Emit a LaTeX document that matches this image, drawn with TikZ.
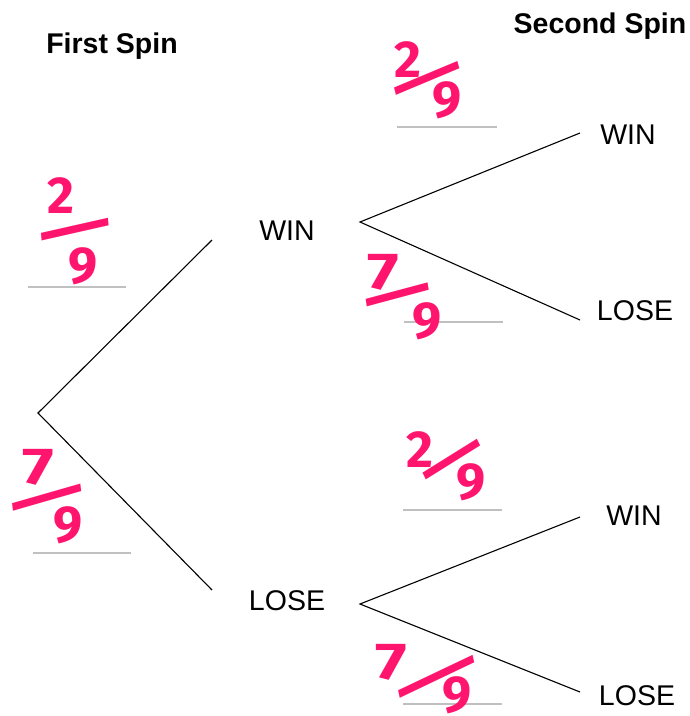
\documentclass[tikz,border=0pt]{standalone}
\usepackage{fontspec}
\setmainfont{Liberation Sans}
\newfontfamily\hwfont{Fira Sans}
\definecolor{hwpink}{RGB}{255,20,110}
\definecolor{rulegray}{RGB}{192,192,192}
\begin{document}
\begin{tikzpicture}[x=1pt,y=-1pt,
  lbl/.style={font=\fontsize{28.5}{32}\selectfont, inner sep=0pt, anchor=base},
  head/.style={font=\bfseries\fontsize{28.5}{32}\selectfont, inner sep=0pt, anchor=base},
  hw/.style={font=\hwfont\bfseries\fontsize{52}{54}\selectfont, text=hwpink, inner sep=0pt},
  hwseven/.style={hw, xscale=1.3},
  branch/.style={draw=black, line width=1.1pt},
  blank/.style={draw=rulegray, line width=2.6pt}]
\useasboundingbox (0,0) rectangle (690,716);
\fill[white] (0,0) rectangle (690,716);

% headings
\node[head] (h1) at (112,53) {First Spin};
\node[head] (h2) at (600,33) {Second Spin};

% outcome labels
\node[lbl] (win1) at (287,240) {WIN};
\node[lbl] (lose1) at (287,610) {LOSE};
\node[lbl] (ww) at (628,144) {WIN};
\node[lbl] (wl) at (635,320) {LOSE};
\node[lbl] (lw) at (634,525) {WIN};
\node[lbl] (ll) at (637,705) {LOSE};

% branch end points
\coordinate (root) at (38,413);
\coordinate (w1in) at (212,240);
\coordinate (l1in) at (212,590);
\coordinate (w1out) at (360,222);
\coordinate (l1out) at (360,604);
\coordinate (wwin) at (580,133);
\coordinate (wlin) at (580,320);
\coordinate (lwin) at (580,517);
\coordinate (llin) at (580,692);

\draw[branch] (w1in) -- (root) -- (l1in);
\draw[branch] (wwin) -- (w1out) -- (wlin);
\draw[branch] (lwin) -- (l1out) -- (llin);

% answer blanks
\coordinate (b1a) at (28,287);  \coordinate (b1b) at (126,287);
\coordinate (b2a) at (33,553);  \coordinate (b2b) at (131,553);
\coordinate (b3a) at (397,127); \coordinate (b3b) at (497,127);
\coordinate (b4a) at (404,322); \coordinate (b4b) at (503,322);
\coordinate (b5a) at (403,510); \coordinate (b5b) at (502,510);
\coordinate (b6a) at (403,704); \coordinate (b6b) at (502,704);
\foreach \i in {1,...,6} \draw[blank] (b\i a) -- (b\i b);

% handwritten answers: numerator, slash, denominator
\node[hw] (f1n) at (61,196) {2};
\node[hw, rotate=-67, yscale=1.45] (f1s) at (75,230) {/};
\node[hw] (f1d) at (83,266) {9};

\node[hwseven] (f2n) at (38,467) {7};
\node[hw, rotate=-64, yscale=1.5] (f2s) at (47,498) {/};
\node[hw] (f2d) at (68,525) {9};

\node[hw] (f3n) at (408,60) {2};
\node[hw, rotate=-57, yscale=1.45] (f3s) at (427,78) {/};
\node[hw] (f3d) at (447,100) {9};

\node[hwseven] (f4n) at (383,272) {7};
\node[hw, rotate=-64, yscale=1.35] (f4s) at (398,295) {/};
\node[hw] (f4d) at (427,321) {9};

\node[hw] (f5n) at (420,450) {2};
\node[hw, rotate=-47, yscale=1.35] (f5s) at (452,460) {/};
\node[hw] (f5d) at (471,482) {9};

\node[hwseven] (f6n) at (391,662) {7};
\node[hw, rotate=-56, yscale=1.75] (f6s) at (437,677) {/};
\node[hw] (f6d) at (457,695) {9};
\end{tikzpicture}
\end{document}
